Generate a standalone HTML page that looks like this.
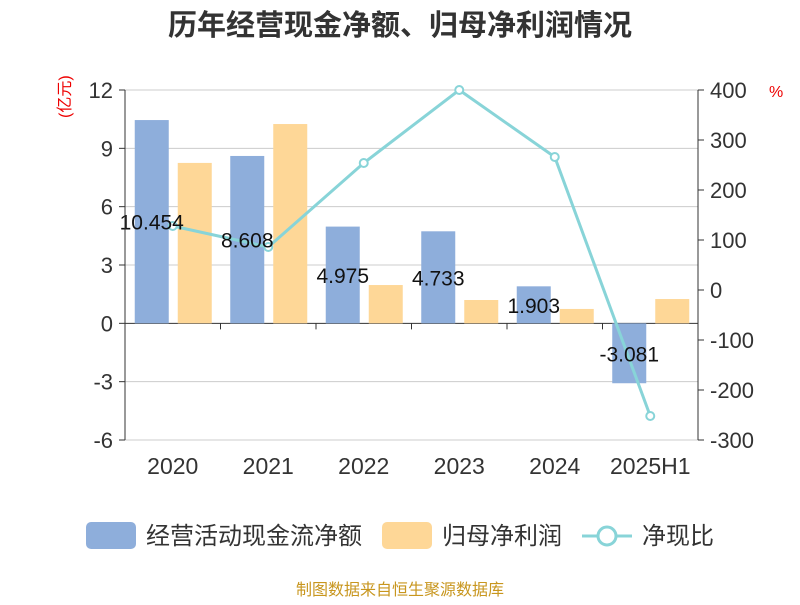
<!DOCTYPE html>
<html><head><meta charset="utf-8"><style>
body{margin:0;background:#fff;font-family:"Liberation Sans","Noto Sans CJK SC",sans-serif}
svg text{font-family:"Liberation Sans","Noto Sans CJK SC",sans-serif}
</style></head><body>
<svg id="c" width="800" height="600" xmlns="http://www.w3.org/2000/svg">
<text x="400" y="35" text-anchor="middle" font-size="29" font-weight="bold" fill="#333">历年经营现金净额、归母净利润情况</text>
<text x="0" y="0" transform="translate(70,118) rotate(-90)" font-size="16" fill="#e00">(亿元)</text>
<text x="769" y="97" font-size="16" fill="#e00">%</text>
<g id="grid"></g><g id="bars"></g><g id="line"></g><g id="axes"></g>
<g>
<rect x="86" y="522" width="50" height="27" rx="5" fill="#8eaedb"/>
<text x="146" y="544" font-size="24" fill="#333">经营活动现金流净额</text>
<rect x="382" y="522" width="50" height="27" rx="5" fill="#fed797"/>
<text x="442" y="544" font-size="24" fill="#333">归母净利润</text>
<line x1="582" y1="536" x2="632" y2="536" stroke="#88d4d8" stroke-width="3"/>
<circle cx="607" cy="536" r="9" fill="#fff" stroke="#88d4d8" stroke-width="3"/>
<text x="642" y="544" font-size="24" fill="#333">净现比</text>
</g>
<text x="400" y="595" text-anchor="middle" font-size="16" fill="#c8961e">制图数据来自恒生聚源数据库</text>
</svg>
<script>
const categories=["2020","2021","2022","2023","2024","2025H1"];
const cashFlow=[10.454,8.608,4.975,4.733,1.903,-3.081];
const cashLabels=["10.454","8.608","4.975","4.733","1.903","-3.081"];
const netProfit=[8.25,10.25,1.97,1.2,0.74,1.25];
const ratio=[128,86,254,400,266,-252];
const leftTicks=[-6,-3,0,3,6,9,12];
const rightTicks=[-300,-200,-100,0,100,200,300,400];
const NS="http://www.w3.org/2000/svg";
const X0=125,X1=698,Y0=90,Y1=440;
const yL=v=>Y1-(v+6)/18*(Y1-Y0);
const yR=v=>Y1-(v+300)/700*(Y1-Y0);
const band=(X1-X0)/categories.length;
const xC=i=>X0+band*(i+0.5);
function mk(p,t,a){const e=document.createElementNS(NS,t);for(const k in a)e.setAttribute(k,a[k]);document.getElementById(p).appendChild(e);return e;}
leftTicks.forEach(v=>{
 const g=mk("grid","line",{x1:X0,x2:X1,y1:yL(v),y2:yL(v),stroke:v===0?"#333":"#ccc","stroke-width":1});
 
 
 const t=mk("axes","text",{x:X0-12,y:yL(v)+8,"text-anchor":"end","font-size":22,fill:"#333"});t.textContent=v;
 
 
 mk("axes","line",{x1:X0-6,x2:X0,y1:yL(v),y2:yL(v),stroke:"#333"});
});
rightTicks.forEach(v=>{
 const t=mk("axes","text",{x:X1+12,y:yR(v)+8,"font-size":22,fill:"#333"});t.textContent=v;
 
 
 mk("axes","line",{x1:X1,x2:X1+6,y1:yR(v),y2:yR(v),stroke:"#333"});
});
const la=mk("axes","line",{x1:X0,x2:X0,y1:Y0,y2:Y1,stroke:"#333"});


const ra=mk("axes","line",{x1:X1,x2:X1,y1:Y0,y2:Y1,stroke:"#333"});


for(let i=1;i<categories.length;i++)mk("axes","line",{x1:X0+band*i,x2:X0+band*i,y1:yL(0),y2:yL(0)+6,stroke:"#333"});
categories.forEach((c,i)=>{
 const t=mk("axes","text",{x:xC(i),y:474,"text-anchor":"middle","font-size":23,fill:"#333"});t.textContent=c;
 
 
 const y0=yL(0),yb=yL(cashFlow[i]);
 const b=mk("bars","rect",{x:xC(i)-38,y:Math.min(y0,yb),width:34,height:Math.abs(y0-yb),fill:"#8eaedb"});
 
 
 const yp=yL(netProfit[i]);
 const b2=mk("bars","rect",{x:xC(i)+5,y:Math.min(y0,yp),width:34,height:Math.abs(y0-yp),fill:"#fed797"});
 
 
});
const pts=ratio.map((v,i)=>xC(i)+","+yR(v)).join(" ");
const pl=mk("line","polyline",{points:pts,fill:"none",stroke:"#88d4d8","stroke-width":3});


ratio.forEach((v,i)=>{
 const c=mk("line","circle",{cx:xC(i),cy:yR(v),r:4,fill:"#fff",stroke:"#88d4d8","stroke-width":2});
 
 
});
cashFlow.forEach((v,i)=>{
 const t=mk("line","text",{x:xC(i)-21,y:(yL(0)+yL(v))/2+8,"text-anchor":"middle","font-size":21,fill:"#111"});t.textContent=cashLabels[i];
 
 
});
</script>
</body></html>
